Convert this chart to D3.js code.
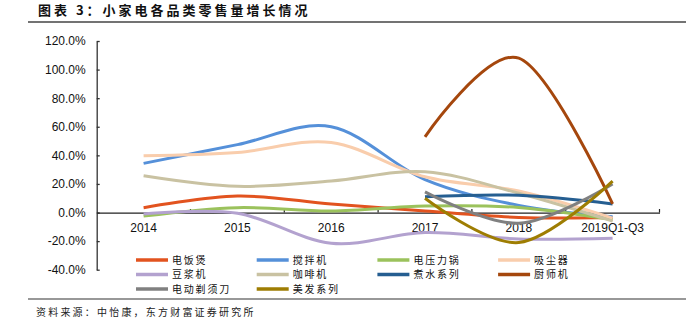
<!DOCTYPE html>
<html><head><meta charset="utf-8">
<script src="https://cdn.jsdelivr.net/npm/d3@7/dist/d3.min.js"></script>
<style>
html,body{margin:0;padding:0;background:#fff;}
svg{display:block;}
</style>
</head><body>
<svg id="chart" width="696" height="331"></svg>
<script>
const categories = ["2014","2015","2016","2017","2018","2019Q1-Q3"];
const seriesNames = ["电饭煲","搅拌机","电压力锅","吸尘器","豆浆机","咖啡机","煮水系列","厨师机","电动剃须刀","美发系列"];
const seriesColors = ["#E2531F","#5590D9","#9BC25C","#F9CDAC","#B3A2CF","#C9C2A2","#255E91","#A5470D","#808080","#9E7D02"];
const riceCooker   = [3.4, 11.5, 6, 1, -3.4, -3.5];
const blender      = [34.4, 47.5, 60, 23, 5, -3];
const pressureCooker = [-2.5, 3.4, 1, 4.5, 3.5, -5];
const vacuum       = [39.7, 42, 49, 25, 15, -4];
const soyMilk      = [-1, -0.5, -21.5, -14, -18.5, -18];
const coffee       = [25.7, 18.3, 22, 28.5, 13.5, -6];
const kettle       = [null, null, null, 11, 12, 6];
const standMixer   = [null, null, null, 53, 108, 6];
const shaver       = [null, null, null, 14.5, -7.5, 20];
const hairCare     = [null, null, null, 10, -21, 22];
const yTicks = [-40, -20, 0, 20, 40, 60, 80, 100, 120];
const titleText = "图表 3：小家电各品类零售量增长情况";
const sourceText = "资料来源：中怡康，东方财富证券研究所";

const seriesValues = [riceCooker, blender, pressureCooker, vacuum, soyMilk, coffee, kettle, standMixer, shaver, hairCare];

const svg = d3.select("#chart");
const numFont = "'Liberation Sans', Arial, sans-serif";
const cjkFont = "'Noto Sans CJK SC', sans-serif";

// Title and rules
svg.append("text").attr("x", 38).attr("y", 15)
  .attr("font-family", cjkFont).attr("font-size", 13).attr("font-weight", "bold")
  .attr("letter-spacing", 3).attr("fill", "#111").text(titleText);
svg.append("line").attr("x1", 28).attr("x2", 686).attr("y1", 22).attr("y2", 22)
  .attr("stroke", "#444").attr("stroke-width", 1.5);
svg.append("line").attr("x1", 28).attr("x2", 686).attr("y1", 299).attr("y2", 299)
  .attr("stroke", "#333").attr("stroke-width", 1.2);
svg.append("text").attr("x", 36).attr("y", 316)
  .attr("font-family", cjkFont).attr("font-size", 10)
  .attr("letter-spacing", 2.2).attr("fill", "#222").text(sourceText);

// Scales
const x = d3.scaleBand().domain(categories).range([96.7, 659.5]).padding(0);
const y = d3.scaleLinear().domain([-40, 120]).range([269.7, 41]);

// Y axis
const yAxis = d3.axisLeft(y).tickValues(yTicks).tickSize(-3).tickSizeOuter(0)
  .tickPadding(11).tickFormat(d => d.toFixed(1) + "%");
const gy = svg.append("g").attr("transform", "translate(96.7,0)").call(yAxis);
gy.selectAll("text").attr("font-family", numFont).attr("font-size", 12).attr("fill", "#111");
gy.selectAll("line,path").attr("stroke", "#333").attr("stroke-width", 1.3);

// X axis at zero
const y0 = y(0);
const xAxis = d3.axisBottom(x).tickSize(0).tickPadding(11);
const gx = svg.append("g").attr("transform", `translate(0,${y0})`).call(xAxis);
gx.selectAll("text").attr("font-family", numFont).attr("font-size", 12).attr("fill", "#111");
gx.select(".domain").attr("stroke", "#222").attr("stroke-width", 1.3);
const bounds = categories.map((c, i) => x(c) + x.bandwidth());
svg.append("g").selectAll("line").data(bounds).join("line")
  .attr("x1", d => d).attr("x2", d => d).attr("y1", y0).attr("y2", y0 - 3.5)
  .attr("stroke", "#222").attr("stroke-width", 1.2);

// Lines
const line = d3.line()
  .defined(d => d.v !== null)
  .x(d => x(d.c) + x.bandwidth() / 2)
  .y(d => y(d.v))
  .curve(d3.curveCardinal.tension(0));

const g = svg.append("g");
seriesValues.forEach((vals, i) => {
  const pts = vals.map((v, j) => ({c: categories[j], v: v}));
  g.append("path").datum(pts)
    .attr("d", line)
    .attr("fill", "none")
    .attr("stroke", seriesColors[i])
    .attr("stroke-width", 3)
    .attr("stroke-linecap", "butt")
    .attr("stroke-linejoin", "round");
});

// Legend
const legend = svg.append("g");
seriesNames.forEach((name, i) => {
  const col = i % 4, row = Math.floor(i / 4);
  const lx = 136 + col * 120.7;
  const ly = 260 + row * 14.5;
  legend.append("line").attr("x1", lx).attr("x2", lx + 32).attr("y1", ly).attr("y2", ly)
    .attr("stroke", seriesColors[i]).attr("stroke-width", 3.5);
  legend.append("text").attr("x", lx + 36).attr("y", ly + 3.8)
    .attr("font-family", cjkFont).attr("font-size", 10).attr("letter-spacing", 1.8)
    .attr("fill", "#111").text(name);
});
</script>
</body></html>
